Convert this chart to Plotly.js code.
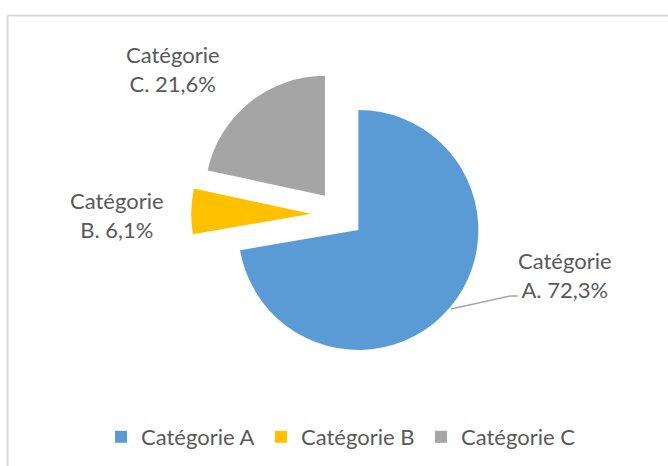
<!DOCTYPE html>
<html>
<head>
<meta charset="utf-8">
<script src="https://cdn.plot.ly/plotly-3.0.1.min.js"></script>
<style>html,body{margin:0;padding:0;background:#fff;}#chart{width:668px;height:466px;}</style>
</head>
<body>
<div id="chart"></div>
<script>
// ---- data ----
var categories = ['Catégorie A', 'Catégorie B', 'Catégorie C'];
var values = [72.3, 6.1, 21.6];
var colors = ['#5B9BD5', '#FFC000', '#A5A5A5'];

// ---- layout constants ----
var W = 668, H = 466;
function px(x) { return x / W; }
function py(y) { return 1 - y / H; }
var pullAmt = [0.2, 0.24, 0.2];
var labelCenters = [[565, 275], [117, 214.5], [173, 69.5]];
var textColor = '#595959';
var fontFam = 'Lato, "Open Sans", sans-serif';

function fmt(v) { return v.toFixed(1).replace('.', ',') + '%'; }

var trace = {
  type: 'pie',
  labels: categories,
  values: values,
  sort: false,
  direction: 'clockwise',
  rotation: 0,
  pull: pullAmt,
  marker: { colors: colors, line: { width: 0 } },
  textinfo: 'none',
  hoverinfo: 'label+percent',
  domain: { x: [px(191.2), px(488.8)], y: [py(363.3), py(65.7)] }
};

var annotations = categories.map(function (c, i) {
  return {
    text: c.replace(' ', '<br>') + '. ' + fmt(values[i]),
    x: px(labelCenters[i][0]), y: py(labelCenters[i][1]),
    xref: 'paper', yref: 'paper',
    xanchor: 'center', yanchor: 'middle',
    showarrow: false, align: 'center',
    font: { family: fontFam, size: 22, color: textColor }
  };
});

var layout = {
  width: W, height: H,
  margin: { l: 0, r: 0, t: 0, b: 0 },
  paper_bgcolor: '#ffffff',
  showlegend: true,
  legend: {
    orientation: 'h', x: px(341), xanchor: 'center', y: py(437), yanchor: 'middle',
    font: { family: fontFam, size: 22, color: textColor },
    entrywidth: 115
  },
  annotations: annotations,
  shapes: [
    { type: 'line', xref: 'paper', yref: 'paper', x0: px(7.5), x1: 1, y0: py(15.5), y1: py(15.5), line: { color: '#D9D9D9', width: 2 } },
    { type: 'line', xref: 'paper', yref: 'paper', x0: px(7.5), x1: px(7.5), y0: py(15.5), y1: 0, line: { color: '#D9D9D9', width: 2 } },
    { type: 'path', xref: 'paper', yref: 'paper',
      path: 'M' + px(451) + ',' + py(309) + ' L' + px(510) + ',' + py(296) + ' L' + px(518) + ',' + py(296),
      line: { color: '#A6A6A6', width: 1.5 } }
  ]
};

Plotly.newPlot('chart', [trace], layout, { displayModeBar: false, staticPlot: true });
</script>
</body>
</html>
